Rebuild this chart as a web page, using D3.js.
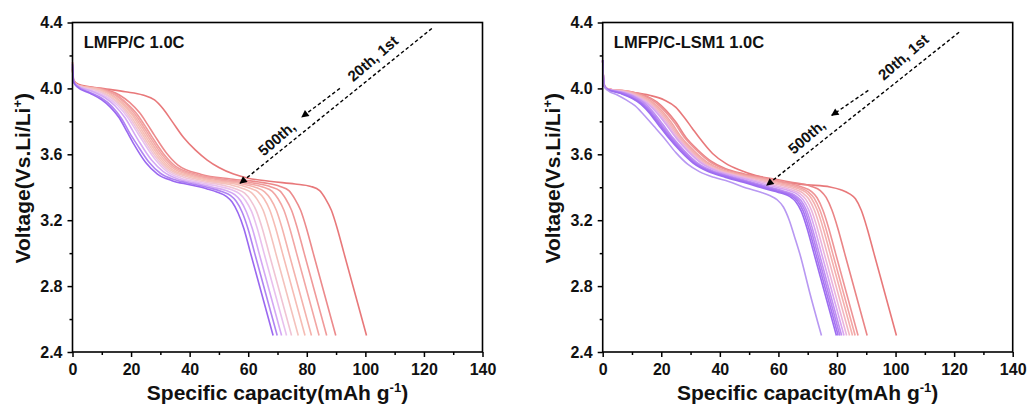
<!DOCTYPE html>
<html><head><meta charset="utf-8">
<script src="https://cdn.jsdelivr.net/npm/d3@7/dist/d3.min.js"></script>
<style>
body{margin:0;background:#fff}
svg{display:block}
text{font-family:"Liberation Sans",Arial,Helvetica,sans-serif;font-weight:bold;fill:#111}
</style>
</head><body>
<svg id="chart" width="1032" height="412"></svg>
<script>
// ---------- data ----------
const xTickValues = [0, 20, 40, 60, 80, 100, 120, 140];
const xMinorTicks = [10, 30, 50, 70, 90, 110, 130];
const yTickValues = [2.4, 2.8, 3.2, 3.6, 4.0, 4.4];
const yMinorTicks = [2.6, 3.0, 3.4, 3.8, 4.2];
const panelTitles = ["LMFP/C 1.0C", "LMFP/C-LSM1 1.0C"];
const arrowLabels = ["20th, 1st", "500th,"];

// LMFP/C discharge curves, 1st -> 500th  [capacity, voltage]
const lmfpC = [
 [[0,4.16],[0.4,4.05],[2,4.025],[10,4.0],[18,3.98],[24,3.96],[28,3.93],[31,3.875],[34,3.8],[38,3.7],[42,3.625],[46,3.565],[50,3.52],[55,3.48],[60,3.455],[68,3.435],[76,3.42],[81.4,3.405],[84.4,3.38],[86.4,3.33],[88.4,3.26],[90.4,3.15],[92.7,3.0],[96.4,2.76],[100.4,2.5]],
 [[0,4.12],[0.4,4.04],[1.5,4.02],[12,3.99],[16,3.96],[19.5,3.915],[23,3.85],[25.5,3.785],[28,3.715],[32,3.61],[36,3.535],[44,3.478],[54,3.45],[65,3.428],[70.9,3.405],[73.9,3.38],[75.9,3.33],[77.9,3.26],[79.9,3.15],[82.2,3.0],[85.9,2.76],[89.9,2.5]],
 [[0,4.12],[0.4,4.04],[1.5,4.02],[11,3.99],[15,3.96],[18.5,3.91],[22,3.845],[24.5,3.78],[27,3.71],[31,3.605],[35,3.53],[43,3.475],[52,3.447],[62,3.425],[67.8,3.402],[70.8,3.378],[72.8,3.33],[74.8,3.26],[76.8,3.15],[79.1,3.0],[82.8,2.76],[86.8,2.5]],
 [[0,4.12],[0.4,4.04],[1.5,4.02],[10.5,3.99],[14.5,3.96],[18,3.91],[21.5,3.84],[24,3.775],[26.5,3.705],[30.5,3.6],[34.5,3.525],[42,3.472],[50,3.445],[60,3.422],[65.2,3.4],[68.2,3.375],[70.2,3.33],[72.2,3.26],[74.2,3.15],[76.5,3.0],[80.2,2.76],[84.2,2.5]],
 [[0,4.12],[0.4,4.04],[1.5,4.02],[10,3.99],[14,3.955],[17.5,3.905],[21,3.835],[23.5,3.77],[26,3.7],[30,3.595],[34,3.52],[41,3.47],[48,3.443],[58,3.42],[62.6,3.398],[65.6,3.372],[67.6,3.33],[69.6,3.26],[71.6,3.15],[73.9,3.0],[77.6,2.76],[81.6,2.5]],
 [[0,4.12],[0.4,4.04],[1.5,4.02],[9.5,3.99],[13.5,3.955],[17,3.905],[20.5,3.835],[23,3.765],[25.5,3.695],[29.5,3.59],[33.5,3.515],[40,3.468],[47,3.44],[56,3.418],[60.4,3.396],[63.4,3.37],[65.4,3.33],[67.4,3.26],[69.4,3.15],[71.7,3.0],[75.4,2.76],[79.4,2.5]],
 [[0,4.12],[0.4,4.04],[1.5,4.02],[9,3.985],[13,3.95],[16.5,3.9],[20,3.83],[22.5,3.76],[25,3.69],[29,3.585],[33,3.51],[39,3.465],[46,3.437],[54,3.415],[58.1,3.393],[61.1,3.367],[63.1,3.325],[65.1,3.26],[67.1,3.15],[69.4,3.0],[73.1,2.76],[77.1,2.5]],
 [[0,4.12],[0.4,4.04],[1.5,4.02],[8.5,3.985],[12.5,3.95],[16,3.9],[19.5,3.825],[22,3.755],[24.5,3.685],[28.5,3.58],[32.5,3.505],[38,3.46],[45,3.432],[52,3.41],[55.8,3.39],[58.8,3.364],[60.8,3.322],[62.8,3.255],[64.8,3.15],[67.1,3.0],[70.8,2.76],[74.8,2.5]],
 [[0,4.13],[0.4,4.04],[1.5,4.02],[8,3.98],[12,3.945],[15.5,3.895],[19,3.82],[21.5,3.75],[24,3.68],[28,3.575],[32,3.5],[37,3.455],[43,3.43],[50,3.405],[54.1,3.386],[57.1,3.36],[59.1,3.32],[61.1,3.255],[63.1,3.15],[65.4,3.0],[69.1,2.76],[73.1,2.5]],
 [[0,4.13],[0.4,4.04],[1.5,4.02],[7,3.98],[11,3.945],[14.5,3.895],[18,3.82],[20.5,3.745],[23,3.67],[27,3.565],[31,3.495],[36,3.45],[42,3.425],[48,3.4],[52.4,3.38],[55.4,3.355],[57.4,3.318],[59.4,3.25],[61.4,3.15],[63.7,3.0],[67.4,2.76],[71.4,2.5]],
 [[0,4.14],[0.4,4.04],[1.5,4.015],[6,3.975],[10,3.94],[13.5,3.89],[17,3.81],[19.5,3.73],[22,3.66],[26,3.555],[30,3.485],[35,3.445],[41,3.42],[47,3.395],[50.9,3.374],[53.9,3.35],[55.9,3.315],[57.9,3.25],[59.9,3.15],[62.2,3.0],[65.9,2.76],[69.9,2.5]],
 [[0,4.15],[0.4,4.04],[1.5,4.01],[6,3.97],[10,3.93],[13,3.885],[16,3.82],[18.5,3.74],[21,3.66],[25,3.55],[29,3.48],[34,3.44],[40,3.415],[46,3.39],[49.5,3.37],[52.5,3.345],[54.5,3.31],[56.5,3.245],[58.5,3.15],[60.8,3.0],[64.5,2.76],[68.5,2.5]]
];

// LMFP/C-LSM1 discharge curves, 1st -> 500th
const lmfpCLsm1 = [
 [[0,4.17],[0.4,4.03],[1.5,4.0],[8,3.98],[16,3.958],[21,3.93],[25,3.885],[28,3.82],[30.5,3.76],[33,3.7],[37.5,3.605],[42,3.545],[47,3.503],[52,3.472],[56,3.453],[61,3.432],[70,3.415],[77.6,3.402],[81.3,3.385],[84.3,3.36],[86.3,3.33],[88.3,3.26],[90.3,3.15],[92.6,3.0],[96.3,2.76],[100.3,2.5]],
 [[0,4.17],[0.4,4.025],[1.5,3.998],[10,3.978],[15,3.953],[18.5,3.918],[21.7,3.865],[24.9,3.797],[28.5,3.7],[32.5,3.626],[37,3.558],[42,3.512],[48,3.482],[57,3.455],[64,3.432],[71.3,3.405],[74.3,3.38],[76.3,3.338],[78.3,3.26],[80.3,3.15],[82.6,3.0],[86.3,2.76],[90.3,2.5]],
 [[0,4.17],[0.4,4.025],[1.5,3.998],[10,3.978],[14.5,3.952],[18,3.915],[21.2,3.862],[24.4,3.795],[28,3.7],[32,3.625],[36.5,3.556],[41.5,3.51],[47.5,3.48],[56,3.452],[62,3.43],[68.2,3.4],[71.2,3.375],[73.2,3.336],[75.2,3.26],[77.2,3.15],[79.5,3.0],[83.2,2.76],[87.2,2.5]],
 [[0,4.17],[0.4,4.025],[1.5,3.998],[9.5,3.978],[13.5,3.953],[17,3.916],[20.2,3.864],[23.4,3.794],[27,3.7],[31,3.624],[35.5,3.554],[40.5,3.508],[46.5,3.478],[55,3.45],[61,3.426],[67.2,3.397],[70.2,3.372],[72.2,3.334],[74.2,3.26],[76.2,3.15],[78.5,3.0],[82.2,2.76],[86.2,2.5]],
 [[0,4.17],[0.4,4.025],[1.5,3.998],[9,3.978],[13,3.952],[16.5,3.915],[19.7,3.862],[22.9,3.792],[26.5,3.7],[30.5,3.622],[35,3.552],[40,3.507],[46,3.476],[54,3.448],[60,3.423],[66.3,3.394],[69.3,3.37],[71.3,3.332],[73.3,3.26],[75.3,3.15],[77.6,3.0],[81.3,2.76],[85.3,2.5]],
 [[0,4.17],[0.4,4.025],[1.5,3.998],[8.5,3.977],[12.5,3.951],[16,3.913],[19.2,3.86],[22.4,3.79],[26,3.7],[30,3.62],[34.5,3.55],[39.5,3.505],[45.5,3.474],[53,3.446],[59,3.42],[65.3,3.39],[68.3,3.366],[70.3,3.33],[72.3,3.26],[74.3,3.15],[76.6,3.0],[80.3,2.76],[84.3,2.5]],
 [[0,4.17],[0.4,4.025],[1.5,3.997],[8,3.976],[12,3.95],[15.5,3.912],[18.7,3.858],[21.9,3.788],[25.5,3.7],[29.5,3.62],[34,3.548],[39,3.503],[45,3.472],[52,3.443],[58,3.415],[64.3,3.385],[67.3,3.362],[69.3,3.328],[71.3,3.26],[73.3,3.15],[75.6,3.0],[79.3,2.76],[83.3,2.5]],
 [[0,4.17],[0.4,4.025],[1.5,3.997],[7.5,3.975],[11.5,3.948],[15,3.91],[18.2,3.857],[21.4,3.787],[25,3.7],[29,3.62],[33.5,3.548],[38.5,3.502],[44.5,3.47],[51,3.44],[57,3.41],[63.4,3.38],[66.4,3.358],[68.4,3.325],[70.4,3.26],[72.4,3.15],[74.7,3.0],[78.4,2.76],[82.4,2.5]],
 [[0,4.17],[0.4,4.02],[1.5,3.996],[7,3.974],[11,3.947],[14.3,3.91],[17.3,3.855],[20.4,3.785],[24,3.7],[28,3.62],[32.5,3.546],[37.5,3.5],[43.5,3.467],[49.5,3.438],[56,3.406],[62.6,3.373],[65.6,3.352],[67.6,3.322],[69.6,3.26],[71.6,3.15],[73.9,3.0],[77.6,2.76],[81.6,2.5]],
 [[0,4.17],[0.4,4.02],[1.5,3.995],[6.5,3.973],[10.5,3.945],[13.8,3.908],[16.8,3.853],[19.9,3.783],[23.5,3.7],[27.5,3.62],[32,3.545],[37,3.498],[43,3.465],[49,3.435],[55.5,3.403],[62,3.37],[65,3.35],[67,3.32],[69,3.26],[71,3.15],[73.3,3.0],[77,2.76],[81,2.5]],
 [[0,4.17],[0.4,4.02],[1.5,3.995],[6,3.972],[10,3.943],[13.3,3.907],[16.3,3.852],[19.4,3.782],[23,3.7],[27,3.62],[31.5,3.545],[36.5,3.497],[42.5,3.463],[48.5,3.433],[55,3.4],[61.4,3.368],[64.4,3.348],[66.4,3.318],[68.4,3.258],[70.4,3.15],[72.7,3.0],[76.4,2.76],[80.4,2.5]],
 [[0,4.17],[0.4,4.02],[1.5,3.995],[6,3.97],[10,3.94],[13,3.905],[16,3.85],[19,3.78],[22.5,3.7],[26.5,3.62],[31,3.545],[36,3.495],[42,3.46],[48,3.43],[54,3.398],[60.8,3.365],[63.8,3.345],[65.8,3.315],[67.8,3.255],[69.8,3.15],[72.1,3.0],[75.8,2.76],[79.8,2.5]],
 [[0,4.17],[0.4,4.02],[1.5,3.99],[5,3.96],[8,3.93],[11,3.895],[14,3.84],[17.5,3.77],[20.7,3.705],[25,3.61],[29,3.54],[33,3.495],[38,3.46],[43,3.435],[49,3.395],[54,3.37],[57,3.35],[59.5,3.325],[61.7,3.28],[63.7,3.2],[65.5,3.1],[67.4,2.99],[70.7,2.76],[74.7,2.5]]
];

// ---------- styles ----------
const paletteLeft = ["#e8787a","#ec8a8c","#f09a9a","#f2a6a4","#f4b2ac","#f6bcb4","#f4c2bc","#f0c4d4","#e8c0ee","#d4a8f4","#b084f2","#9a68f0"];
const paletteRight = ["#e8787a","#ea8486","#ee9496","#f2a4a4","#f4b0ae","#f2b6c0","#eab4dc","#d8a4f0","#c090f2","#b482f2","#a674f2","#9c6cf0","#b898f2"];

const svg = d3.select("#chart");
const defs = svg.append("defs");
defs.append("marker").attr("id","ah").attr("viewBox","0 0 10 10")
  .attr("refX",9).attr("refY",5).attr("markerWidth",10).attr("markerHeight",7.5)
  .attr("markerUnits","userSpaceOnUse").attr("orient","auto")
  .append("path").attr("d","M0,0 L10,5 L0,10 Z").attr("fill","#000");

const panels = [
  {left:72.5, title:panelTitles[0], curves:lmfpC, colors:paletteLeft,
   arrows:[[122.7,4.364,57.2,3.424],[91.3,4.0,78.3,3.826]],
   labels:[[102.5,4.183],[69.7,3.697]]},
  {left:602.7, title:panelTitles[1], curves:lmfpCLsm1, colors:paletteRight,
   arrows:[[121.7,4.341,56.0,3.412],[90.7,3.988,78.2,3.836]],
   labels:[[102.6,4.192],[69.6,3.707]]}
];

const plotTop = 22.5, plotBottom = 352, plotWidth = 410;

panels.forEach(p => {
  const x = d3.scaleLinear().domain([0,140]).range([p.left, p.left+plotWidth]);
  const y = d3.scaleLinear().domain([2.4,4.4]).range([plotBottom, plotTop]);
  const g = svg.append("g");

  const line = d3.line().x(d=>x(d[0])).y(d=>y(d[1])).curve(d3.curveMonotoneX);
  g.append("g").selectAll("path").data(p.curves).join("path")
    .attr("d", d=>line(d)).attr("fill","none")
    .attr("stroke",(d,i)=>p.colors[i]).attr("stroke-width",1.6)
    .attr("stroke-linejoin","round");

  const xa = g.append("g").attr("transform",`translate(0,${plotBottom})`)
    .call(d3.axisBottom(x).tickValues(xTickValues).tickSize(5).tickPadding(7).tickFormat(d3.format("d")));
  const xm = g.append("g").attr("transform",`translate(0,${plotBottom})`)
    .call(d3.axisBottom(x).tickValues(xMinorTicks).tickSize(3).tickFormat(""));
  const ya = g.append("g").attr("transform",`translate(${p.left},0)`)
    .call(d3.axisLeft(y).tickValues(yTickValues).tickSize(5).tickPadding(5).tickFormat(d3.format(".1f")));
  const ym = g.append("g").attr("transform",`translate(${p.left},0)`)
    .call(d3.axisLeft(y).tickValues(yMinorTicks).tickSize(3).tickFormat(""));
  [xa,xm,ya,ym].forEach(a=>{
    a.select(".domain").remove();
    a.selectAll("line").attr("stroke","#000").attr("stroke-width",1.5);
    a.selectAll("text").attr("font-size",16).attr("fill","#111")
      .style("font-family",'"Liberation Sans",Arial,sans-serif').style("font-weight","bold");
  });

  g.append("rect").attr("x",p.left).attr("y",plotTop).attr("width",plotWidth).attr("height",plotBottom-plotTop)
    .attr("fill","none").attr("stroke","#000").attr("stroke-width",1.6);

  g.append("text").attr("x",x(3.8)).attr("y",y(4.245)).attr("font-size",16.5).text(p.title);

  const xl = g.append("text").attr("x",p.left+plotWidth/2).attr("y",400).attr("text-anchor","middle").attr("font-size",21);
  xl.append("tspan").text("Specific capacity(mAh g");
  xl.append("tspan").attr("font-size",13).attr("dy",-8).text("-1");
  xl.append("tspan").attr("dy",8).text(")");

  const yl = g.append("text").attr("transform",`translate(${p.left-43},${(plotTop+plotBottom)/2 - 9}) rotate(-90)`)
    .attr("text-anchor","middle").attr("font-size",21);
  yl.append("tspan").text("Voltage(Vs.Li/Li");
  yl.append("tspan").attr("font-size",13).attr("dy",-8).text("+");
  yl.append("tspan").attr("dy",8).text(")");

  p.arrows.forEach(a=>{
    g.append("line").attr("x1",x(a[0])).attr("y1",y(a[1])).attr("x2",x(a[2])).attr("y2",y(a[3]))
      .attr("stroke","#000").attr("stroke-width",1.4).attr("stroke-dasharray","3.5,2.5")
      .attr("marker-end","url(#ah)");
  });
  p.labels.forEach((l,i)=>{
    g.append("text").attr("transform",`translate(${x(l[0])},${y(l[1])}) rotate(-41)`)
      .attr("text-anchor","middle").attr("dominant-baseline","central").attr("font-size",15)
      .text(arrowLabels[i]);
  });
});
</script>
</body></html>
